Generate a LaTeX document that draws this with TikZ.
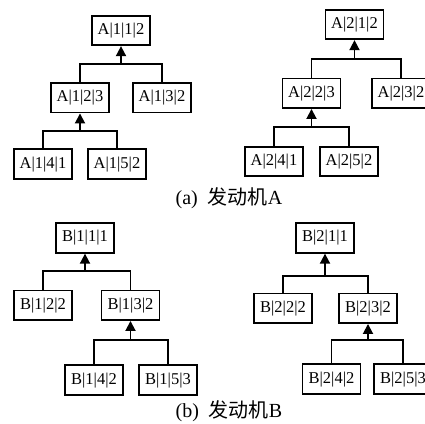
\documentclass[tikz,border=0pt]{standalone}
\usepackage{fontspec}
\setmainfont{Liberation Serif}
\newfontfamily\cjk{Noto Sans CJK SC}
\usetikzlibrary{positioning,arrows.meta}
\tikzset{mybox/.style={
  shape=rectangle,
  draw=black,
  line width=1.8pt,
  minimum width=58pt,
  minimum height=29.5pt,
  inner sep=0pt,
  font=\fontsize{16.5}{19}\selectfont,
  }
}
\tikzset{mylink/.style={
  line width=1.8pt,
  }
}
\tikzset{myarrow/.style={
  line width=1.8pt,
  -{Triangle[length=10pt,width=10pt]},
  }
}
\tikzset{mycap/.style={
  inner sep=0pt,
  font=\fontsize{20}{24}\selectfont,
  }
}

\begin{document}
\begin{tikzpicture}[x=1pt,y=1pt]
      \useasboundingbox (0,0) rectangle (425,-423);

      \node [mybox] (a11) at (121,-30.5) {A|1|1|2};
      \node [mybox, below=36pt of a11, xshift=-41pt] (a12) {A|1|2|3};
      \node [mybox, below=36pt of a11, xshift=41pt] (a13) {A|1|3|2};
      \node [mybox, below=35pt of a12, xshift=-37pt] (a14) {A|1|4|1};
      \node [mybox, below=35pt of a12, xshift=37pt] (a15) {A|1|5|2};
      \coordinate [below=18pt of a11] (fa11);
      \coordinate [below=17.5pt of a12] (fa12);

      \node [mybox] (a21) at (354.5,-24.5) {A|2|1|2};
      \node [mybox, below=37.5pt of a21, xshift=-43pt] (a22) {A|2|2|3};
      \node [mybox, below=37.5pt of a21, xshift=46.5pt] (a23) {A|2|3|2};
      \node [mybox, below=36.75pt of a22, xshift=-37.5pt] (a24) {A|2|4|1};
      \node [mybox, below=36.75pt of a22, xshift=37.5pt] (a25) {A|2|5|2};
      \coordinate [below=19pt of a21] (fa21);
      \coordinate [below=18.4pt of a22] (fa22);

      \node [mycap] (capa) at (229,-198) {(a)\hspace{0.5em}{\cjk 发动机}A};

      \node [mybox] (b11) at (85,-238) {B|1|1|1};
      \node [mybox, below=36pt of b11, xshift=-42pt] (b12) {B|1|2|2};
      \node [mybox, below=36pt of b11, xshift=45.5pt] (b13) {B|1|3|2};
      \node [mybox, below=43.5pt of b13, xshift=-36.5pt] (b14) {B|1|4|2};
      \node [mybox, below=43.5pt of b13, xshift=37.5pt] (b15) {B|1|5|3};
      \coordinate [below=17.5pt of b11] (fb11);
      \coordinate [below=19pt of b13] (fb13);

      \node [mybox] (b21) at (325,-238) {B|2|1|1};
      \node [mybox, below=39pt of b21, xshift=-42pt] (b22) {B|2|2|2};
      \node [mybox, below=39pt of b21, xshift=43pt] (b23) {B|2|3|2};
      \node [mybox, below=39.5pt of b23, xshift=-36.5pt] (b24) {B|2|4|2};
      \node [mybox, below=39.5pt of b23, xshift=35pt] (b25) {B|2|5|3};
      \coordinate [below=22pt of b21] (fb21);
      \coordinate [below=16pt of b23] (fb23);

      \node [mycap] (capb) at (229,-411) {(b)\hspace{0.5em}{\cjk 发动机}B};

      \draw [mylink] (a12.north) |- (fa11) -| (a13.north);
      \draw [mylink] (a14.north) |- (fa12) -| (a15.north);
      \draw [mylink] (a22.north) |- (fa21) -| (a23.north);
      \draw [mylink] (a24.north) |- (fa22) -| (a25.north);
      \draw [mylink] (b12.north) |- (fb11) -| (b13.north);
      \draw [mylink] (b14.north) |- (fb13) -| (b15.north);
      \draw [mylink] (b22.north) |- (fb21) -| (b23.north);
      \draw [mylink] (b24.north) |- (fb23) -| (b25.north);
      \draw [myarrow] (fa11) -- (a11.south);
      \draw [myarrow] (fa12) -- (a12.south);
      \draw [myarrow] (fa21) -- (a21.south);
      \draw [myarrow] (fa22) -- (a22.south);
      \draw [myarrow] (fb11) -- (b11.south);
      \draw [myarrow] (fb13) -- (b13.south);
      \draw [myarrow] (fb21) -- (b21.south);
      \draw [myarrow] (fb23) -- (b23.south);
\end{tikzpicture}
\end{document}
